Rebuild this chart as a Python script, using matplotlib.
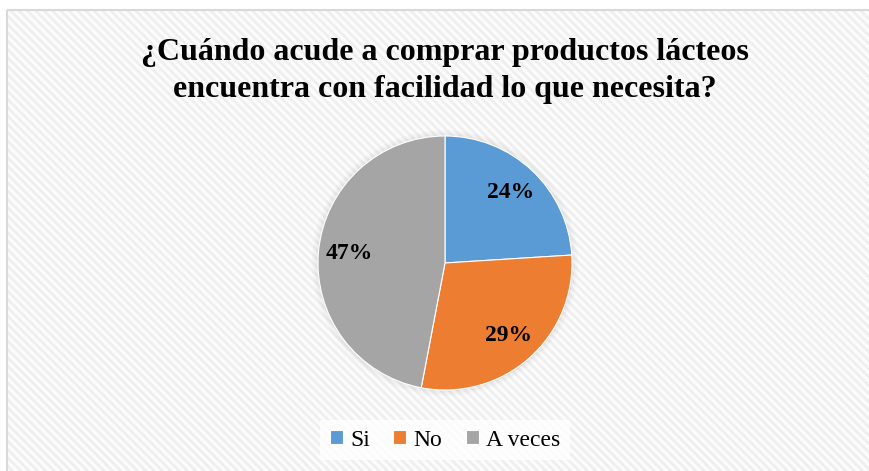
import matplotlib
matplotlib.use("Agg")
import matplotlib.pyplot as plt
from matplotlib.patches import Rectangle, Circle

title = "¿Cuándo acude a comprar productos lácteos\nencuentra con facilidad lo que necesita?"
categories = ["Si", "No", "A veces"]
values = [24, 29, 47]
colors = ["#5B9BD5", "#ED7D31", "#A5A5A5"]

plt.rcParams["hatch.color"] = "#efefef"
plt.rcParams["hatch.linewidth"] = 2.0

W, H = 870, 471
fig = plt.figure(figsize=(W / 100, H / 100), dpi=100)
fig.patch.set_facecolor("white")

# background pattern in its own axes
bgax = fig.add_axes([0, 0, 1, 1], zorder=-5)
bgax.set_xlim(0, W)
bgax.set_ylim(H, 0)
bgax.axis("off")
bgax.add_patch(Rectangle((7, 9.5), W, H, facecolor="#fcfcfc", edgecolor="#efefef",
                         hatch="\\\\\\\\", linewidth=0))
bgax.add_patch(Rectangle((7, 9.5), W, H, facecolor="none", edgecolor="#d9d9d9", linewidth=1.5))

cx, cy, r = 445, 263, 127
ax = fig.add_axes([(cx - r * 1.1) / W, (H - cy - r * 1.1) / H, 2.2 * r / W, 2.2 * r / H])

# soft shadow glow
for i in range(4):
    ax.add_patch(Circle((0, 0), 1 + 0.012 * (4 - i), facecolor="#808080", alpha=0.03,
                        edgecolor="none", zorder=0))

wedges, texts, autotexts = ax.pie(
    values, colors=colors, startangle=90, counterclock=False, radius=1,
    autopct=lambda p: f"{p:.0f}%", pctdistance=0.76,
    wedgeprops=dict(linewidth=0.8, edgecolor="white"),
    textprops=dict(fontfamily="Liberation Serif", fontweight="bold", fontsize=17, color="black"))
ax.set_xlim(-1.1, 1.1)
ax.set_ylim(-1.1, 1.1)
ax.set_aspect("equal")
ax.axis("off")

fig.text(445 / W, 1 - 71 / H, title, ha="center", va="center",
         fontfamily="Liberation Serif", fontweight="bold", fontsize=23, linespacing=1.32)

leg = fig.legend(wedges, categories, loc="center", bbox_to_anchor=(445 / W, 1 - 440 / H),
                 ncol=3, frameon=True, prop=dict(family="Liberation Serif", size=17),
                 handlelength=0.55, handleheight=0.55, handletextpad=0.3, columnspacing=1.0,
                 borderpad=0.4, fancybox=False)
leg.get_frame().set_facecolor("white")
leg.get_frame().set_edgecolor("none")
leg.get_frame().set_alpha(0.8)

fig.savefig("out.png", dpi=100)
